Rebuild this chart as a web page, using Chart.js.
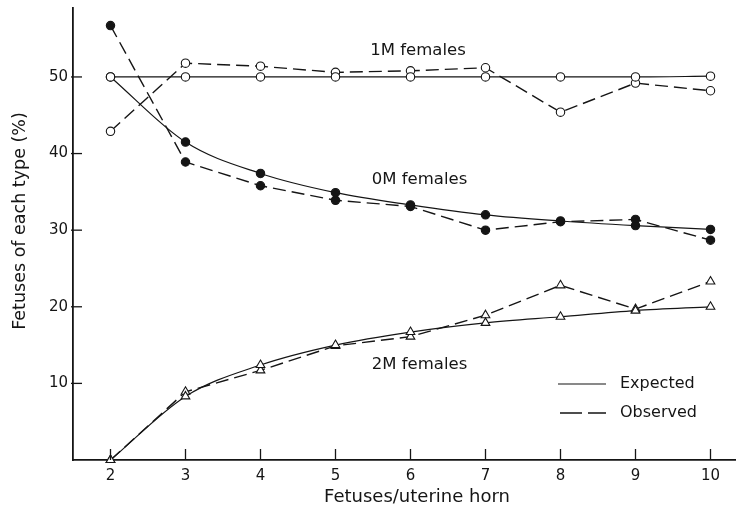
<!DOCTYPE html>
<html><head><meta charset="utf-8">
<script src="https://cdn.jsdelivr.net/npm/chart.js@4/dist/chart.umd.min.js"></script>
<style>html,body{margin:0;padding:0;background:#fff}#wrap{width:736px;height:510px}</style>
</head><body><div id="wrap"><canvas id="c" width="736" height="510"></canvas></div>
<script>
const fetusesPerHorn = [2, 3, 4, 5, 6, 7, 8, 9, 10];
const expected1M = [50, 50, 50, 50, 50, 50, 50, 50, 50.1];
const observed1M = [42.9, 51.8, 51.4, 50.6, 50.8, 51.2, 45.4, 49.2, 48.2];
const expected0M = [50, 41.5, 37.4, 34.9, 33.3, 32.0, 31.2, 30.6, 30.1];
const observed0M = [56.7, 38.9, 35.8, 33.9, 33.1, 30.0, 31.1, 31.4, 28.7];
const expected2M = [0, 8.3, 12.4, 15.0, 16.7, 17.9, 18.7, 19.5, 20.0];
const observed2M = [0, 8.9, 11.7, 14.9, 16.1, 18.9, 22.8, 19.7, 23.3];
const yTickValues = [10, 20, 30, 40, 50];
const xTickValues = [2, 3, 4, 5, 6, 7, 8, 9, 10];
const seriesLabels = [
  {text: '1M females', x: 6.1, y: 53.4},
  {text: '0M females', x: 6.12, y: 36.6},
  {text: '2M females', x: 6.12, y: 12.5}
];
const xTitle = 'Fetuses/uterine horn';
const yTitle = 'Fetuses of each type (%)';

const INK = '#151515';
const FONT = '"DejaVu Sans", sans-serif';
const pts = arr => arr.map((v, i) => ({x: fetusesPerHorn[i], y: v}));

function ds(data, dashed, style, fill) {
  return {
    data: pts(data),
    borderColor: INK,
    borderWidth: dashed ? 1.4 : 1.2,
    borderDash: dashed ? [13, 6] : [],
    tension: dashed ? 0 : 0.4,
    cubicInterpolationMode: dashed ? 'default' : 'monotone',
    pointStyle: style,
    pointRadius: style === 'triangle' ? 5 : 4.2,
    pointBackgroundColor: fill ? INK : '#fff',
    pointBorderColor: INK,
    pointBorderWidth: 1.1,
    clip: false
  };
}

const annot = {
  id: 'annot',
  afterDatasetsDraw(chart) {
    const {ctx, scales: {x, y}} = chart;
    ctx.save();
    ctx.strokeStyle = INK;
    ctx.lineWidth = 1.3;
    // inward tick marks
    yTickValues.forEach(v => {
      const py = y.getPixelForValue(v);
      ctx.beginPath(); ctx.moveTo(x.left - 2, py); ctx.lineTo(x.left + 9, py); ctx.stroke();
    });
    xTickValues.forEach(v => {
      const px = x.getPixelForValue(v);
      ctx.beginPath(); ctx.moveTo(px, y.bottom); ctx.lineTo(px, y.bottom - 11); ctx.stroke();
    });
    ctx.fillStyle = INK;
    ctx.font = '16.5px ' + FONT;
    ctx.textAlign = 'center';
    ctx.textBaseline = 'middle';
    seriesLabels.forEach(l => ctx.fillText(l.text, x.getPixelForValue(l.x), y.getPixelForValue(l.y)));
    // axis titles
    ctx.font = '18px ' + FONT;
    ctx.fillText(xTitle, 417, 497);
    ctx.save();
    ctx.translate(20, 221);
    ctx.rotate(-Math.PI / 2);
    ctx.font = '17.5px ' + FONT;
    ctx.fillText(yTitle, 0, 0);
    ctx.restore();
    // legend
    ctx.font = '16px ' + FONT;
    ctx.textAlign = 'left';
    ctx.lineWidth = 1.2;
    ctx.setLineDash([]);
    ctx.beginPath(); ctx.moveTo(558, 384); ctx.lineTo(606, 384); ctx.stroke();
    ctx.fillText('Expected', 620, 384);
    ctx.lineWidth = 1.5;
    ctx.setLineDash([22, 6]);
    ctx.beginPath(); ctx.moveTo(560, 413); ctx.lineTo(606, 413); ctx.stroke();
    ctx.setLineDash([]);
    ctx.fillText('Observed', 620, 413);
    ctx.restore();
  }
};

new Chart(document.getElementById('c'), {
  type: 'line',
  data: {
    datasets: [
      ds(expected1M, false, 'circle', false),
      ds(observed1M, true, 'circle', false),
      ds(expected0M, false, 'circle', true),
      ds(observed0M, true, 'circle', true),
      ds(expected2M, false, 'triangle', false),
      ds(observed2M, true, 'triangle', false)
    ]
  },
  options: {
    responsive: false,
    animation: false,
    devicePixelRatio: 1,
    layout: {autoPadding: false, padding: {top: 8, right: 0, bottom: 0, left: 0}},
    plugins: {legend: {display: false}, tooltip: {enabled: false}},
    scales: {
      x: {
        type: 'linear',
        min: 1.5, max: 10.34,
        afterBuildTicks: s => { s.ticks = xTickValues.map(v => ({value: v})); },
        afterFit: s => { s.height = 50; s.paddingLeft = 0; s.paddingRight = 0; },
        grid: {display: true, drawOnChartArea: false, drawTicks: false},
        border: {color: INK, width: 1.8},
        ticks: {color: INK, font: {family: FONT, size: 15}, padding: 7, maxRotation: 0},
        title: {display: false}
      },
      y: {
        min: 0, max: 59,
        afterBuildTicks: s => { s.ticks = yTickValues.map(v => ({value: v})); },
        afterFit: s => { s.width = 73; s.paddingTop = 0; s.paddingBottom = 0; },
        grid: {display: true, drawOnChartArea: false, drawTicks: false},
        border: {color: INK, width: 1.8},
        ticks: {color: INK, font: {family: FONT, size: 15}, padding: 5},
        title: {display: false}
      }
    }
  },
  plugins: [annot]
});
</script></body></html>
